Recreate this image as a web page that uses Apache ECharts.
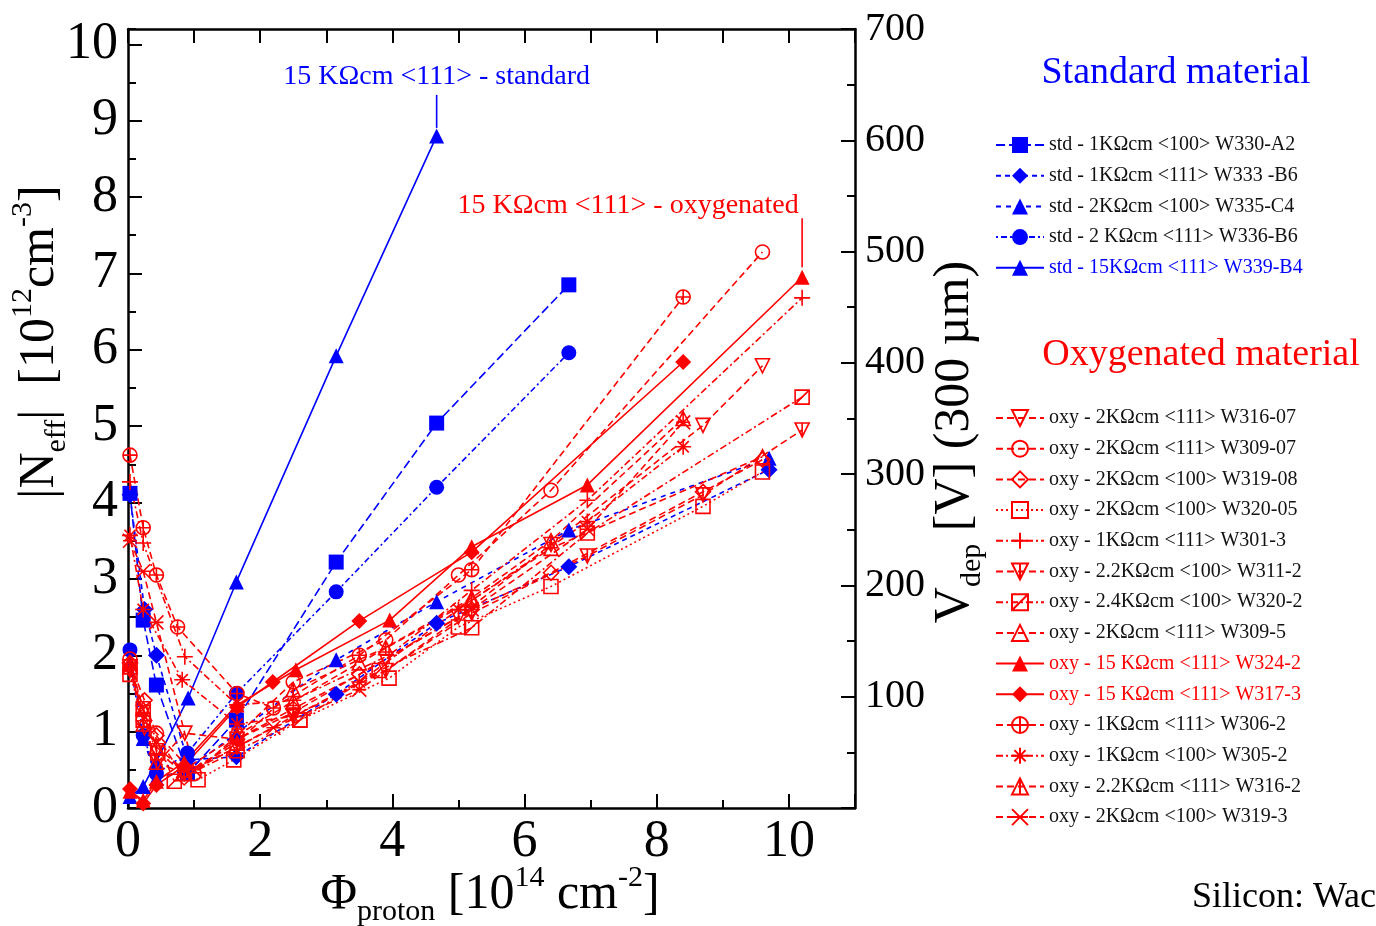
<!DOCTYPE html>
<html>
<head>
<meta charset="utf-8">
<title>|Neff| vs proton fluence</title>
<script src="https://cdn.jsdelivr.net/npm/echarts@6.0.0/dist/echarts.min.js"></script>
<style>
  html, body { margin: 0; padding: 0; background: #fff; }
  #chart { width: 1376px; height: 926px; }
</style>
</head>
<body>
<div id="chart"></div>
<script>
// fluence [1e14 p/cm2] -> |Neff| [1e12 cm-3]

// standard material
const w330A2 = [[0.03,4.12],[0.23,2.46],[0.43,1.61],[0.9,0.45],[1.64,1.15],[3.15,3.22],[4.67,5.04],[6.67,6.85]]
const w333B6 = [[0.03,4.1],[0.25,2.6],[0.43,2.0],[0.9,0.63],[1.64,0.67],[3.15,1.49],[4.67,2.42],[6.67,3.16],[9.7,4.43]]
const w335C4 = [[0.03,1.9],[0.23,0.91],[0.43,0.39],[0.9,0.5],[1.64,0.98],[3.15,1.94],[4.67,2.7],[6.67,3.64],[9.7,4.58]]
const w336B6 = [[0.03,2.07],[0.23,0.95],[0.43,0.45],[0.9,0.72],[1.64,1.5],[3.15,2.83],[4.67,4.2],[6.67,5.96]]
const w339B4 = [[0.03,0.15],[0.23,0.28],[0.43,0.61],[0.91,1.44],[1.64,2.96],[3.15,5.92],[4.67,8.8]]

// oxygenated material
const w316_07 = [[0.03,1.85],[0.25,1.05],[0.45,0.6],[0.86,0.98],[1.65,0.9],[2.5,1.25],[3.9,1.95],[5.0,2.5],[6.4,3.45],[8.7,5.01],[9.6,5.79]]
const w309_07 = [[0.03,1.95],[0.23,1.15],[0.43,0.98],[1.0,0.45],[1.65,0.95],[2.5,1.65],[3.9,2.2],[5.0,3.05],[6.4,4.16],[9.6,7.28]]
const w319_08 = [[0.03,1.9],[0.25,1.41],[0.43,0.95],[0.85,0.4],[1.65,0.9],[2.5,1.3],[3.5,1.75],[5.2,2.6],[6.4,3.08],[8.7,4.14],[9.6,4.56]]
const w320_05 = [[0.03,1.75],[0.23,1.15],[0.45,0.72],[1.06,0.37],[1.6,0.63],[2.6,1.15],[3.95,1.7],[5.0,2.37],[6.4,2.9],[8.7,3.95],[9.6,4.4]]
const w301_3 = [[0.03,4.27],[0.23,3.47],[0.86,1.98],[1.65,1.35],[2.5,1.41],[3.95,2.0],[5.2,2.85],[6.95,4.03],[10.2,6.68]]
const w311_2 = [[0.03,1.8],[0.23,1.25],[0.43,0.75],[0.85,0.45],[1.65,0.8],[2.5,1.2],[3.9,1.8],[5.2,2.55],[6.95,3.3],[8.7,4.1],[10.2,4.95]]
const w320_2 = [[0.03,1.85],[0.23,1.3],[0.7,0.35],[1.65,0.75],[2.6,1.15],[3.8,1.8],[5.2,2.36],[6.95,3.6],[10.2,5.38]]
const w309_5 = [[0.03,1.9],[0.23,1.3],[0.43,0.8],[0.85,0.5],[1.65,0.95],[2.5,1.4],[3.5,1.9],[5.2,2.72],[6.4,3.4],[9.6,4.6]]
const w324_2 = [[0.03,0.22],[0.23,0.1],[0.43,0.35],[0.85,0.6],[1.65,1.35],[2.54,1.81],[3.96,2.46],[5.2,3.42],[6.95,4.23],[10.2,6.95]]
const w317_3 = [[0.03,0.25],[0.23,0.06],[0.43,0.3],[0.85,0.55],[1.65,1.32],[2.19,1.65],[3.5,2.45],[5.2,3.35],[8.4,5.84]]
const w306_2 = [[0.03,4.62],[0.23,3.67],[0.43,3.05],[0.75,2.37],[1.65,1.5],[2.2,1.31],[3.5,2.0],[5.2,3.12],[8.4,6.69]]
const w305_2 = [[0.03,3.57],[0.23,2.6],[0.82,1.68],[1.65,1.1],[2.5,1.2],[3.5,1.65],[5.0,2.6],[6.95,3.75],[8.4,4.73]]
const w316_2 = [[0.03,1.85],[0.23,1.1],[0.43,0.6],[0.85,0.45],[1.65,0.85],[2.5,1.55],[3.9,2.1],[5.2,2.75],[6.4,3.5],[8.4,5.1]]
const w319_3 = [[0.03,3.5],[0.23,3.1],[0.43,2.43],[1.0,0.5],[2.2,1.05],[3.5,1.55],[5.2,2.6],[6.95,3.65],[8.4,5.05]]

const stdNames = [
  'std - 1KΩcm <100> W330-A2',
  'std - 1KΩcm <111> W333 -B6',
  'std - 2KΩcm <100> W335-C4',
  'std - 2 KΩcm <111> W336-B6',
  'std - 15KΩcm <111> W339-B4',
]
const oxyNames = [
  'oxy - 2KΩcm <111> W316-07',
  'oxy - 2KΩcm <111> W309-07',
  'oxy - 2KΩcm <100> W319-08',
  'oxy - 2KΩcm <100> W320-05',
  'oxy - 1KΩcm <111> W301-3',
  'oxy - 2.2KΩcm <100> W311-2',
  'oxy - 2.4KΩcm <100> W320-2',
  'oxy - 2KΩcm <111> W309-5',
  'oxy - 15 KΩcm <111> W324-2',
  'oxy - 15 KΩcm <111> W317-3',
  'oxy - 1KΩcm <111> W306-2',
  'oxy - 1KΩcm <100> W305-2',
  'oxy - 2.2KΩcm <111> W316-2',
  'oxy - 2KΩcm <100> W319-3',
]

const FONT = "'Liberation Serif', 'Times New Roman', serif"
const BLUE = '#0000ff'
const RED = '#ff0000'

// custom marker shapes
const circlePlus = 'path://M0,10A10,10,0,1,1,20,10A10,10,0,1,1,0,10ZM10,0L10,20M0,10L20,10'
const plus = 'path://M10,0L10,20M0,10L20,10'
const star = 'path://M10,0L10,20M0,10L20,10M3,3L17,17M17,3L3,17'
const cross = 'path://M0,0L20,20M20,0L0,20M0,10L20,10'
const boxSlash = 'path://M0,0L20,0L20,20L0,20ZM0,20L20,0'
const triStem = 'path://M10,0L20,20L0,20ZM10,0L10,20'
const nablaStem = 'path://M0,0L20,0L10,20ZM10,0L10,20'

const DASH = [7, 4]
const DASHDOT = [7, 3, 2, 3]
const DOT = [2, 3]

const specs = [
  { name: stdNames[0], data: w330A2, color: BLUE, symbol: 'rect', fill: true, dash: [9, 4], size: 15 },
  { name: stdNames[1], data: w333B6, color: BLUE, symbol: 'diamond', fill: true, dash: [5, 4], size: 17 },
  { name: stdNames[2], data: w335C4, color: BLUE, symbol: 'triangle', fill: true, dash: [5, 5], size: 15 },
  { name: stdNames[3], data: w336B6, color: BLUE, symbol: 'circle', fill: true, dash: [2, 3, 6, 3], size: 15 },
  { name: stdNames[4], data: w339B4, color: BLUE, symbol: 'triangle', fill: true, dash: 'solid', size: 15 },
  { name: oxyNames[0], data: w316_07, color: RED, symbol: 'triangle', rotate: 180, dash: DASH },
  { name: oxyNames[1], data: w309_07, color: RED, symbol: 'circle', dash: DASH },
  { name: oxyNames[2], data: w319_08, color: RED, symbol: 'diamond', dash: DASH, size: 15 },
  { name: oxyNames[3], data: w320_05, color: RED, symbol: 'rect', dash: DOT },
  { name: oxyNames[4], data: w301_3, color: RED, symbol: plus, dash: DASHDOT, size: 16 },
  { name: oxyNames[5], data: w311_2, color: RED, symbol: nablaStem, dash: DASH },
  { name: oxyNames[6], data: w320_2, color: RED, symbol: boxSlash, dash: DASHDOT },
  { name: oxyNames[7], data: w309_5, color: RED, symbol: 'triangle', dash: DASH },
  { name: oxyNames[8], data: w324_2, color: RED, symbol: 'triangle', fill: true, dash: 'solid', size: 15 },
  { name: oxyNames[9], data: w317_3, color: RED, symbol: 'diamond', fill: true, dash: 'solid', size: 16 },
  { name: oxyNames[10], data: w306_2, color: RED, symbol: circlePlus, dash: DASH },
  { name: oxyNames[11], data: w305_2, color: RED, symbol: star, dash: DASHDOT, size: 16 },
  { name: oxyNames[12], data: w316_2, color: RED, symbol: triStem, dash: DASH },
  { name: oxyNames[13], data: w319_3, color: RED, symbol: cross, dash: DASH },
]

const series = specs.map(s => ({
  type: 'line',
  name: s.name,
  data: s.data,
  xAxisIndex: 0,
  yAxisIndex: 0,
  symbol: s.symbol,
  symbolSize: s.size || 14,
  symbolRotate: s.rotate || 0,
  showAllSymbol: true,
  clip: false,
  lineStyle: { color: s.color, width: 1.6, type: s.dash },
  itemStyle: {
    color: s.fill ? s.color : 'rgba(255,255,255,0)',
    borderColor: s.color,
    borderWidth: s.fill ? 0 : 1.6,
  },
  emphasis: { disabled: true },
}))

// onZero off so the right / top frame lines stay on their own side
const axisLine = { show: true, onZero: false, lineStyle: { color: '#000', width: 2.5 } }
const tickStyle = { color: '#000', width: 2 }
const labelStyle = { fontFamily: FONT, color: '#000' }

const legendBase = {
  orient: 'vertical',
  left: 990,
  itemWidth: 48,
  itemHeight: 20,
  itemGap: 10.7,
  selectedMode: false,
  textStyle: { fontFamily: FONT, fontSize: 20, color: '#111', lineHeight: 20 },
}

const richBase = {
  m: { fontFamily: FONT, fontSize: 50, lineHeight: 64, verticalAlign: 'middle', fill: '#000' },
  sub: { fontFamily: FONT, fontSize: 30, verticalAlign: 'bottom', fill: '#000' },
  sup: { fontFamily: FONT, fontSize: 30, verticalAlign: 'top', fill: '#000' },
}

const staticGraphic = [
  { type: 'text', x: 1176, y: 73, style: { text: 'Standard material', fill: BLUE, fontFamily: FONT, fontSize: 38, align: 'center', verticalAlign: 'middle' } },
  { type: 'text', x: 1201, y: 355, style: { text: 'Oxygenated material', fill: RED, fontFamily: FONT, fontSize: 38, align: 'center', verticalAlign: 'middle' } },
  { type: 'text', x: 1192, y: 898, style: { text: 'Silicon: Wacker', fill: '#000', fontFamily: FONT, fontSize: 36, align: 'left', verticalAlign: 'middle' } },
  { type: 'text', x: 490, y: 895, style: {
      text: '{m|Φ}{sub|proton}{m| [10}{sup|14}{m| cm}{sup|-2}{m|]}', rich: richBase, align: 'center', verticalAlign: 'middle' } },
  { type: 'text', x: 40, y: 342, rotation: Math.PI / 2, style: {
      text: '{m||N}{sub|eff}{m||  [10}{sup|12}{m|cm}{sup|-3}{m|]}', rich: richBase, align: 'center', verticalAlign: 'middle' } },
  { type: 'text', x: 955, y: 442, rotation: Math.PI / 2, style: {
      text: '{m|V}{sub|dep}{m| [V] (300 µm)}', rich: richBase, align: 'center', verticalAlign: 'middle' } },
]

const option = {
  animation: false,
  backgroundColor: '#fff',
  grid: { left: 128, right: 521, top: 29, bottom: 118, containLabel: false },
  xAxis: [
    {
      type: 'value', position: 'bottom', min: 0, max: 11, interval: 1,
      axisLine, splitLine: { show: false },
      axisTick: { inside: true, length: 8, lineStyle: tickStyle },
      axisLabel: { ...labelStyle, fontSize: 52, margin: 8, formatter: v => (v % 2 === 0 ? String(v) : '') },
    },
    {
      type: 'value', position: 'top', min: 0, max: 11, interval: 1,
      axisLine, splitLine: { show: false },
      axisTick: { inside: true, length: 14, lineStyle: tickStyle },
      axisLabel: { show: false },
    },
    {
      type: 'value', position: 'bottom', min: 0, max: 11, interval: 2,
      axisLine: { show: false, onZero: false }, splitLine: { show: false },
      axisTick: { inside: true, length: 14, lineStyle: tickStyle },
      axisLabel: { show: false },
    },
  ],
  yAxis: [
    {
      type: 'value', position: 'left', min: 0, max: 10.2, interval: 1,
      axisLine, splitLine: { show: false },
      axisTick: { inside: true, length: 14, lineStyle: tickStyle },
      axisLabel: { ...labelStyle, fontSize: 52, margin: 10, showMaxLabel: false },
    },
    {
      type: 'value', position: 'right', min: 0, max: 700, interval: 100,
      axisLine, splitLine: { show: false },
      axisTick: { inside: true, length: 14, lineStyle: tickStyle },
      minorTick: { show: true, splitNumber: 2, length: 8, lineStyle: tickStyle },
      minorSplitLine: { show: false },
      axisLabel: { ...labelStyle, fontSize: 40, margin: 10, showMinLabel: false },
    },
    {
      type: 'value', position: 'left', min: 0, max: 10.2, interval: 0.5,
      axisLine: { show: false, onZero: false }, splitLine: { show: false },
      axisTick: { inside: true, length: 8, lineStyle: tickStyle },
      axisLabel: { show: false },
    },
  ],
  legend: [
    { ...legendBase, top: 130,
      data: stdNames.map((n, i) => (i === 4 ? { name: n, textStyle: { color: BLUE } } : { name: n })) },
    { ...legendBase, top: 403,
      data: oxyNames.map((n, i) => (i === 8 || i === 9 ? { name: n, textStyle: { color: RED } } : { name: n })) },
  ],
  graphic: staticGraphic,
  series,
}

const chart = echarts.init(document.getElementById('chart'))
chart.setOption(option)

// annotation leaders for the two 15 KΩcm <111> curves
const stdTop = chart.convertToPixel({ seriesIndex: 4 }, w339B4[w339B4.length - 1])
const oxyTop = chart.convertToPixel({ seriesIndex: 13 }, w324_2[w324_2.length - 1])
chart.setOption({
  graphic: staticGraphic.concat([
    { type: 'line', shape: { x1: stdTop[0], y1: stdTop[1] - 8, x2: stdTop[0], y2: stdTop[1] - 41 }, style: { stroke: BLUE, lineWidth: 1.6 } },
    { type: 'text', x: stdTop[0], y: stdTop[1] - 59, style: { text: '15 KΩcm <111> - standard', fill: BLUE, fontFamily: FONT, fontSize: 28, align: 'center', verticalAlign: 'middle' } },
    { type: 'line', shape: { x1: oxyTop[0], y1: oxyTop[1] - 10, x2: oxyTop[0], y2: oxyTop[1] - 59 }, style: { stroke: RED, lineWidth: 1.6 } },
    { type: 'text', x: oxyTop[0] - 174, y: oxyTop[1] - 72, style: { text: '15 KΩcm <111> - oxygenated', fill: RED, fontFamily: FONT, fontSize: 28, align: 'center', verticalAlign: 'middle' } },
  ]),
})
window.addEventListener('resize', () => chart.resize())
</script>
</body>
</html>
